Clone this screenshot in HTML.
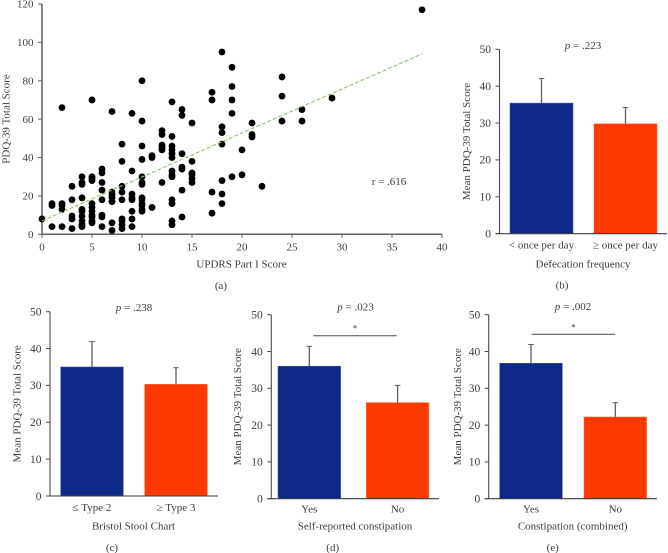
<!DOCTYPE html>
<html lang="en">
<head>
<meta charset="utf-8">
<title>PDQ-39 Total Score charts</title>
<style>
html,body{margin:0;padding:0;background:#fff;}
svg{display:block;font-family:"Liberation Serif",serif;fill:#3c3c3c;filter:blur(0.25px);}
</style>
</head>
<body>
<svg id="figure" width="668" height="553" viewBox="0 0 668 553" xmlns="http://www.w3.org/2000/svg"></svg>
<script>
// ---- Panel (a) data ----
const scatterX = [0,1,1,1,2,2,2,2,2,3,3,3,3,3,
  4,4,4,4,4,4,4,4,4,4,5,5,5,5,5,5,5,5,5,5,5,
  6,6,6,6,6,6,6,6,7,7,7,7,7,7,7,
  8,8,8,8,8,8,8,8,8,9,9,9,9,9,9,9,9,
  10,10,10,10,10,10,10,10,10,10,10,10,10,11,11,11,
  12,12,12,12,12,12,12,13,13,13,13,13,13,13,13,13,13,13,13,13,
  14,14,14,14,14,14,14,15,15,15,15,15,15,
  17,17,17,17,18,18,18,18,18,18,18,19,19,19,19,19,
  20,20,21,21,21,22,24,24,24,26,26,29,38];
const scatterY = [8,4,15,16,4,13,15,16,66,3,8,9.5,18,25,
  4,5,7,9.5,12,13,19,26,27,30,6,7,9,10,12,14,16,28,30,70,29,
  4,9,10,18,23,27,32,34,2,6,17,19,20.5,22,64,
  3,5,7,8,18,22,25,38,47,4,8,12,18,19,21,33,63,
  12,13,15,16,18,19,26,27,30,39,46,59,80,14,40,41,
  27,44,45,46.5,52,54,46,5,7,16,18,30,31,33,40,42,44,46,51,69,
  9,23,34,35,42,62,65,27,29,31,32,38,58,
  11,22,70,74,16,21,28,47,53,56,95,30,63,70,77,87,
  31,44,50.7,52,58,25,59,72,82,59,65,71,117];
const trendX = [0,38];
const trendY = [7,94];
const scatterXTicks = [0,5,10,15,20,25,30,35,40];
const scatterYTicks = [0,20,40,60,80,100,120];

// ---- Bar panel data ----
const barTicks = [0,10,20,30,40,50];

const panelBCategories = ['< once per day','≥ once per day'];
const panelBMeans = [35.4,29.8];
const panelBUpper = [42.1,34.2];

const panelCCategories = ['≤ Type 2','≥ Type 3'];
const panelCMeans = [35.0,30.3];
const panelCUpper = [41.9,34.8];

const panelDCategories = ['Yes','No'];
const panelDMeans = [36.0,26.1];
const panelDUpper = [41.4,30.8];

const panelECategories = ['Yes','No'];
const panelEMeans = [36.8,22.2];
const panelEUpper = [41.9,26.1];

const NS = 'http://www.w3.org/2000/svg';
const root = document.getElementById('figure');
const TEXT = '#3c3c3c';
const GREY = '#5f5f5f';

function make(tag, attrs, parent, content) {
  const el = document.createElementNS(NS, tag);
  for (const k in attrs) el.setAttribute(k, attrs[k]);
  if (content !== undefined) el.textContent = content;
  (parent || root).appendChild(el);
  return el;
}
function named(el, name) {
  
  
  return el;
}
function label(parent, name, x, y, str, size, anchor, extra) {
  const attrs = Object.assign({x:x, y:y, 'font-size':size, 'text-anchor':anchor||'middle', fill:TEXT}, extra||{});
  return named(make('text', attrs, parent, str), name);
}
function hline(parent, name, x1, x2, y, color, w) {
  return named(make('line', {x1:x1, x2:x2, y1:y, y2:y, stroke:color, 'stroke-width':w}, parent), name);
}
function vline(parent, name, x, y1, y2, color, w) {
  return named(make('line', {x1:x, x2:x, y1:y1, y2:y2, stroke:color, 'stroke-width':w}, parent), name);
}

// ---- Scatter ----
(function drawScatter() {
  const g = named(make('g', {}), 'scatter-panel-a');
  const left = 42, x40 = 442, bottom = 234.3, y120 = 4;
  const sx = v => left + v * (x40 - left) / 40;
  const sy = v => bottom - v * (bottom - y120) / 120;

  vline(g, 'y-axis', left, y120, bottom, GREY, 1.5);
  hline(g, 'x-axis', left, x40, bottom, GREY, 1.5);

  scatterYTicks.forEach(t => {
    hline(g, 'y-tick', left - 4, left, sy(t), GREY, 1);
    label(g, 'y-tick-label', 33.5, sy(t) + 3.6, String(t), 11, 'end');
  });
  scatterXTicks.forEach(t => {
    vline(g, 'x-tick', sx(t), bottom, bottom + 3.5, GREY, 1);
    label(g, 'x-tick-label', sx(t), 250.5, String(t), 11);
  });

  scatterX.forEach((v, i) => {
    const c = make('circle', {cx:sx(v), cy:sy(scatterY[i]), r:3.4, fill:'#000'}, g);
    
    
  });

  const tl = make('line', {x1:sx(trendX[0]), y1:sy(trendY[0]), x2:sx(trendX[1]), y2:sy(trendY[1]),
    stroke:'#8cc46e', 'stroke-width':1.1, 'stroke-dasharray':'4 2'}, g);
  
  

  label(g, 'y-axis-title', 0, 0, 'PDQ-39 Total Score', 11, 'middle', {transform:'translate(9.5 119) rotate(-90)'});
  label(g, 'x-axis-title', 241.5, 267.5, 'UPDRS Part I Score', 11);
  label(g, 'correlation-label', 389, 185, 'r = .616', 11);
  label(g, 'panel-caption-a', 221, 289, '(a)', 11);
})();

// ---- Bars ----
function drawBars(cfg) {
  const g = named(make('g', {}), 'bar-panel-' + cfg.id);
  const sy = v => cfg.y0 - v * (cfg.y0 - cfg.y50) / 50;

  cfg.means.forEach((m, i) => {
    const x = cfg.barX[i];
    const cx = x + cfg.barW / 2;
    vline(g, 'error-bar-' + i, cx, sy(cfg.upper[i]), sy(m), GREY, 1.3);
    hline(g, 'error-cap-' + i, cx - 2.8, cx + 2.8, sy(cfg.upper[i]), GREY, 1);
    const r = make('rect', {x:x, y:sy(m), width:cfg.barW, height:cfg.y0 - sy(m),
      fill:i === 0 ? '#0e2a86' : '#ff3a00', stroke:i === 0 ? '#3d58ad' : '#ff6a3c', 'stroke-width':0.6}, g);
    
    
    label(g, 'category-label', cx, cfg.catY, cfg.categories[i], 11);
  });

  vline(g, 'y-axis', cfg.axisX, cfg.y50, cfg.y0, '#4a4a4a', 1.1);
  hline(g, 'x-axis', cfg.axisX - 4, cfg.axisEnd, cfg.y0, '#3c3c3c', 1.1);
  barTicks.forEach(t => {
    hline(g, 'y-tick', cfg.axisX - 4, cfg.axisX, sy(t), '#4a4a4a', 1);
    label(g, 'y-tick-label', cfg.axisX - 8.5, sy(t) + 3.8, String(t), 11.5, 'end');
  });

  label(g, 'y-axis-title', 0, 0, 'Mean PDQ-39 Total Score', 11, 'middle',
    {transform:'translate(' + cfg.titleX + ' ' + (cfg.y0 + cfg.y50) / 2 + ') rotate(-90)'});
  label(g, 'x-axis-title', cfg.xTitleX, cfg.xTitleY, cfg.xTitle, 11);
  label(g, 'panel-caption-' + cfg.id, cfg.capX, cfg.capY, '(' + cfg.id + ')', 11);

  const p = label(g, 'p-value', cfg.pX, cfg.pY, '', 11);
  make('tspan', {'font-style':'italic'}, p, 'p');
  make('tspan', {}, p, ' = ' + cfg.pText);

  if (cfg.bracket) {
    hline(g, 'significance-bracket', cfg.bracket[0], cfg.bracket[1], cfg.bracket[2], '#4a4a4a', 1);
    label(g, 'significance-star', (cfg.bracket[0] + cfg.bracket[1]) / 2, cfg.bracket[2] - 4, '*', 9);
  }
}

drawBars({id:'b', categories:panelBCategories, means:panelBMeans, upper:panelBUpper,
  axisX:499.5, axisEnd:667, y0:233.7, y50:49.3, barX:[510,594], barW:63,
  titleX:470, catY:248.5, xTitle:'Defecation frequency', xTitleX:583, xTitleY:267.5,
  capX:562, capY:288.5, pX:583, pY:49, pText:'.223'});

drawBars({id:'c', categories:panelCCategories, means:panelCMeans, upper:panelCUpper,
  axisX:50, axisEnd:218, y0:496, y50:311.7, barX:[60.7,144.7], barW:62.6,
  titleX:20.5, catY:511, xTitle:'Bristol Stool Chart', xTitleX:133.5, xTitleY:529.5,
  capX:112, capY:551, pX:134, pY:311, pText:'.238'});

drawBars({id:'d', categories:panelDCategories, means:panelDMeans, upper:panelDUpper,
  axisX:271.3, axisEnd:439, y0:498.7, y50:314.7, barX:[278,366.3], barW:62.6,
  titleX:241, catY:512.5, xTitle:'Self-reported constipation', xTitleX:355, xTitleY:529.5,
  capX:332.7, capY:551, pX:355.5, pY:310.5, pText:'.023', bracket:[313.3,396.7,335.7]});

drawBars({id:'e', categories:panelECategories, means:panelEMeans, upper:panelEUpper,
  axisX:488.7, axisEnd:657, y0:498.7, y50:314.7, barX:[499.7,584], barW:62.6,
  titleX:461, catY:512.5, xTitle:'Constipation (combined)', xTitleX:572.7, xTitleY:529.5,
  capX:552.7, capY:551, pX:573, pY:310, pText:'.002', bracket:[531.7,615,334.3]});
</script>
</body>
</html>
